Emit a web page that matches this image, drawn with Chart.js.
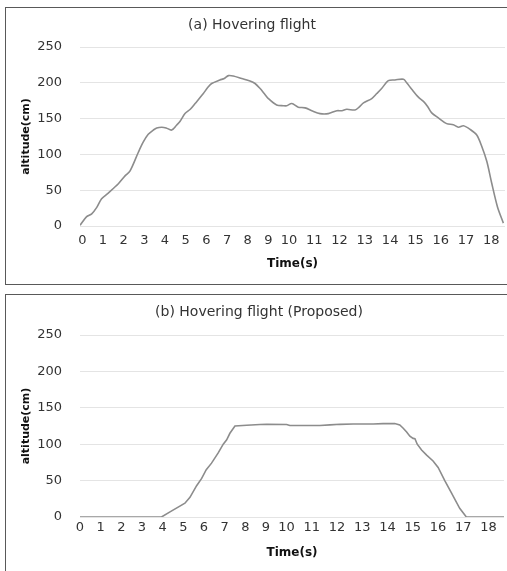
<!DOCTYPE html>
<html>
<head>
<meta charset="utf-8">
<script src="https://cdn.jsdelivr.net/npm/chart.js@4.4.1/dist/chart.umd.min.js"></script>
<style>
html,body{margin:0;padding:0;background:#fff;overflow:hidden;width:507px;height:571px;}
.panel{position:absolute;left:5px;width:540px;border:1px solid #595959;box-sizing:border-box;}
#boxA{top:7px;height:278px;}
#boxB{top:294px;height:300px;}
canvas{position:absolute;left:6px;}
#chartA{top:8px;}
#chartB{top:295px;}
</style>
</head>
<body>
<div class="panel" id="boxA"></div>
<div class="panel" id="boxB"></div>
<canvas id="chartA" width="501" height="276"></canvas>
<canvas id="chartB" width="501" height="276"></canvas>
<script>
// x axis labels (seconds) and the sample index each one sits on
const timeTicks = [0,1,2,3,4,5,6,7,8,9,10,11,12,13,14,15,16,17,18];
const tickSampleA = [1,10,19,28,37,46,55,64,73,82,91,102,113,124,135,146,157,168,179];
const tickSampleB = [0,9,18,27,36,45,54,63,72,81,90,101,112,123,134,145,156,167,178];
const yTicks = [0,50,100,150,200,250];

// (a) Hovering flight : sample index / altitude(cm)
const sampleA = [0,2.9,5.1,7.3,9.4,12.3,16.7,19.6,21.8,25.4,27.5,29.7,31.9,33.4,35.6,37.5,39.9,42.1,43.5,45.7,
  48,50.1,53.7,55.5,57.3,60.9,62.8,64.6,66.7,70.4,74,76.2,78.4,80.2,82,85.6,88.5,90,92.2,95,
  98,100.9,104.5,108.1,111.8,114,116.1,119.7,121.5,123.4,127,129.2,131.3,134.2,137.1,140.8,142.2,144.4,147.3,149.5,
  151.3,153.1,156,159.6,162.5,164.7,166.9,169.8,172.7,174.9,177.1,179.2,181.7,184.3];
const altA = [1,13,17,26,38,46,59,70,77,103,117,128,134,137,138,137,134,141,146,157,
  163,171,185,193,199,204,206,210,209.5,206,202.5,199,192,185,178,169,168,168,171,166,
  165,161,157,157,161,161,163,162,166,172,178,185,192,203,204,205,200,191,180,174,
  167,158,151,143,141.5,138,140,135,127,111,90,60,27,4];

// (b) Hovering flight (Proposed)
const sampleB = [0,35.5,39.2,43.5,45.7,47.9,50.8,53,55,57.3,60.2,62.4,63.9,65.3,67.5,72.6,78.4,81.3,90,91.4,
  104.5,108.9,113.2,119,127.7,132,137.1,139.3,140.8,142.2,143.7,145.1,145.9,146.9,148.8,151,153.8,156,158.9,161.8,
  165.4,168.3,184.7];
const altB = [0,0,7,15,19,27,43,53,65,74,88,100,106,115,125,126,127,127.3,127,125.6,
  125.6,126.5,127.3,127.8,127.8,128.3,128.3,126.4,122,117,111,108,107.5,100,92,85,77,68,50,33,
  12,0,0];

const FONT = '"DejaVu Sans", sans-serif';
const TXT = '#333';

const panelTitle = {
  id: 'panelTitle',
  afterDraw(chart, args, opts) {
    const c = chart.ctx;
    c.save();
    c.font = '14px ' + FONT;
    c.fillStyle = TXT;
    c.textAlign = 'center';
    c.textBaseline = 'middle';
    c.fillText(opts.text, opts.x, opts.y);
    c.restore();
  }
};

function makeChart(id, xs, ys, tickSamples, o) {
  const pts = xs.map((x, i) => ({x: x, y: ys[i]}));
  return new Chart(document.getElementById(id), {
    type: 'line',
    data: { datasets: [{
      data: pts,
      borderColor: '#8c8c8c',
      borderWidth: 1.6,
      pointRadius: 0,
      tension: o.tension,
      fill: false
    }]},
    options: {
      responsive: false,
      animation: false,
      devicePixelRatio: 1,
      layout: { padding: { left: 0, right: o.padRight, top: o.padTop, bottom: 0 } },
      plugins: {
        legend: { display: false },
        tooltip: { enabled: false },
        panelTitle: { text: o.title, x: o.titleX, y: o.titleY }
      },
      scales: {
        x: {
          type: 'linear',
          min: 0, max: o.xMax,
          grid: { display: false, drawTicks: false },
          border: { display: false },
          afterFit: s => { s.height = o.xHeight; },
          afterBuildTicks: s => { s.ticks = tickSamples.map(v => ({ value: v })); },
          ticks: {
            autoSkip: false, maxRotation: 0, padding: o.xTickPad,
            color: TXT, font: { family: FONT, size: 13 },
            callback: (v, i) => timeTicks[i]
          },
          title: {
            display: true, text: 'Time(s)', color: '#111',
            font: { family: FONT, size: 12, weight: 'bold' },
            padding: { top: 0, bottom: o.xTitlePad }
          }
        },
        y: {
          min: 0, max: 250,
          grid: { color: '#e4e4e4', lineWidth: 1, drawTicks: false },
          border: { display: false },
          afterFit: s => { s.width = 74; },
          afterBuildTicks: s => { s.ticks = yTicks.map(v => ({ value: v })); },
          ticks: { padding: 18, color: TXT, font: { family: FONT, size: 13 } },
          title: {
            display: true, text: 'altitude(cm)', color: '#111',
            font: { family: FONT, size: 11, weight: 'bold' },
            padding: { top: 14, bottom: 0 }
          }
        }
      }
    },
    plugins: [panelTitle]
  });
}

makeChart('chartA', sampleA, altA, tickSampleA, {
  title: '(a) Hovering flight', titleX: 246, titleY: 17,
  xMax: 185, padTop: 39, padRight: 2, xHeight: 58, xTickPad: 7, xTitlePad: 13, tension: 0.3
});
makeChart('chartB', sampleB, altB, tickSampleB, {
  title: '(b) Hovering flight (Proposed)', titleX: 253, titleY: 17,
  xMax: 184.7, padTop: 40, padRight: 3, xHeight: 54, xTickPad: 3, xTitlePad: 10.5, tension: 0
});
</script>
</body>
</html>
